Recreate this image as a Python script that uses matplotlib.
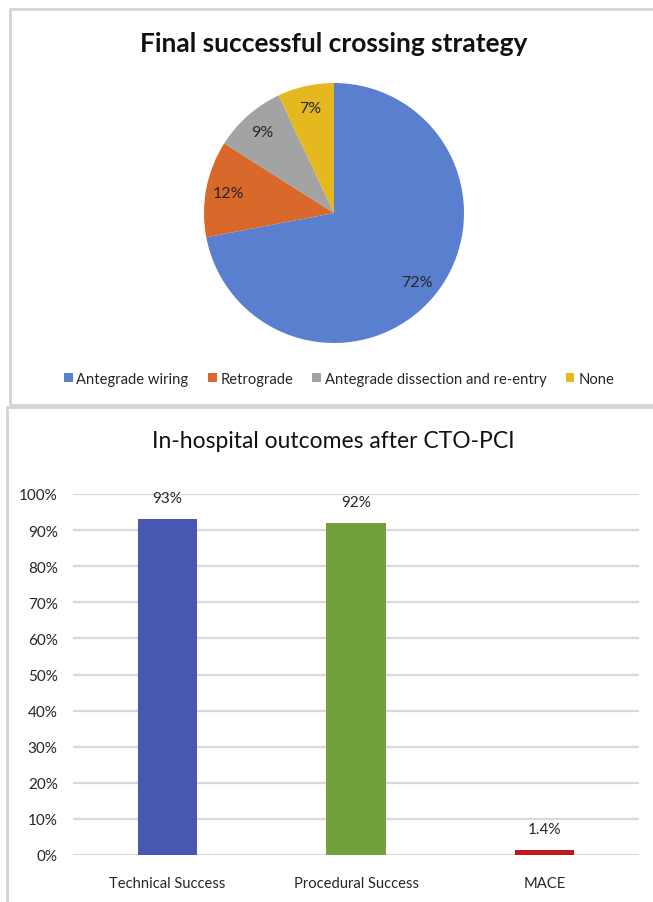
import matplotlib
matplotlib.use("Agg")
import matplotlib.pyplot as plt
from matplotlib.patches import Rectangle, Patch
from matplotlib.ticker import FuncFormatter

plt.rcParams['font.family'] = ['Lato', 'DejaVu Sans']

# ---- data ----
pie_title = "Final successful crossing strategy"
pie_labels = ["Antegrade wiring", "Retrograde", "Antegrade dissection and re-entry", "None"]
pie_values = [72, 12, 9, 7]
pie_colors = ["#5a7fcf", "#d8692b", "#a3a3a3", "#e6b820"]

bar_title = "In-hospital outcomes after CTO-PCI"
bar_categories = ["Technical Success", "Procedural Success", "MACE"]
bar_values = [93, 92, 1.4]
bar_value_labels = ["93%", "92%", "1.4%"]
bar_colors = ["#4858b0", "#72a03c", "#c0161c"]
y_ticks = [0, 10, 20, 30, 40, 50, 60, 70, 80, 90, 100]

W, H = 653, 903
fig = plt.figure(figsize=(W / 100, H / 100), dpi=100)
fig.patch.set_facecolor("white")

def fx(x):
    return x / W

def fy(y):
    return 1 - y / H

# panel borders
fig.patches.append(Rectangle((fx(10), fy(406)), fx(660) - fx(10), fy(10) - fy(406),
                             transform=fig.transFigure, fill=False,
                             edgecolor="#d4d4d4", linewidth=2))
fig.patches.append(Rectangle((fx(7), fy(915)), fx(660) - fx(7), fy(408) - fy(915),
                             transform=fig.transFigure, fill=False,
                             edgecolor="#d4d4d4", linewidth=2))

text_color = "#262626"

# ---- pie ----
fig.text(fx(334), fy(44), pie_title, ha="center", va="center",
         fontsize=19, fontweight="bold", color="#111111")

ax1 = fig.add_axes([fx(204), fy(344), fx(260), fy(84) - fy(344)])
wedges, _, autotexts = ax1.pie(pie_values, colors=pie_colors, startangle=90,
                               counterclock=False, autopct="%d%%", pctdistance=0.83,
                               radius=1.0, textprops=dict(fontsize=11.5, color=text_color))
ax1.set_xlim(-1, 1)
ax1.set_ylim(-1, 1)
ax1.set_aspect("auto")
ax1.axis("off")

handles = [Patch(facecolor=c, edgecolor="none") for c in pie_colors]
fig.legend(handles, pie_labels, loc="center", bbox_to_anchor=(fx(339), fy(380)),
           ncol=4, frameon=False, fontsize=10.6, handlelength=0.6, handleheight=0.6,
           handletextpad=0.25, columnspacing=1.3, labelcolor=text_color)

# ---- bar ----
fig.text(fx(333), fy(442), bar_title, ha="center", va="center",
         fontsize=16.5, color="#111111")

ax2 = fig.add_axes([fx(73), fy(856), fx(639) - fx(73), fy(495) - fy(856)])
x = list(range(len(bar_categories)))
ax2.bar(x, bar_values, width=0.315, color=bar_colors, zorder=3)
ax2.set_xlim(-0.5, len(bar_categories) - 0.5)
ax2.set_ylim(0, 100)
ax2.set_yticks(y_ticks)
ax2.yaxis.set_major_formatter(FuncFormatter(lambda v, p: f"{int(v)}%"))
ax2.set_xticks(x)
ax2.set_xticklabels(bar_categories)
ax2.grid(axis="y", color="#d9d9d9", linewidth=1.6, zorder=0)
for s in ax2.spines.values():
    s.set_visible(False)
ax2.tick_params(axis="y", length=0, labelsize=11, labelcolor=text_color, pad=11)
ax2.tick_params(axis="x", length=0, labelsize=10.6, labelcolor=text_color, pad=15)
for xi, v, lab in zip(x, bar_values, bar_value_labels):
    ax2.annotate(lab, (xi, v), xytext=(0, 15), textcoords="offset points",
                 ha="center", va="center", fontsize=11, color=text_color,
                 annotation_clip=False)

fig.savefig("out.png", dpi=100, facecolor="white")
